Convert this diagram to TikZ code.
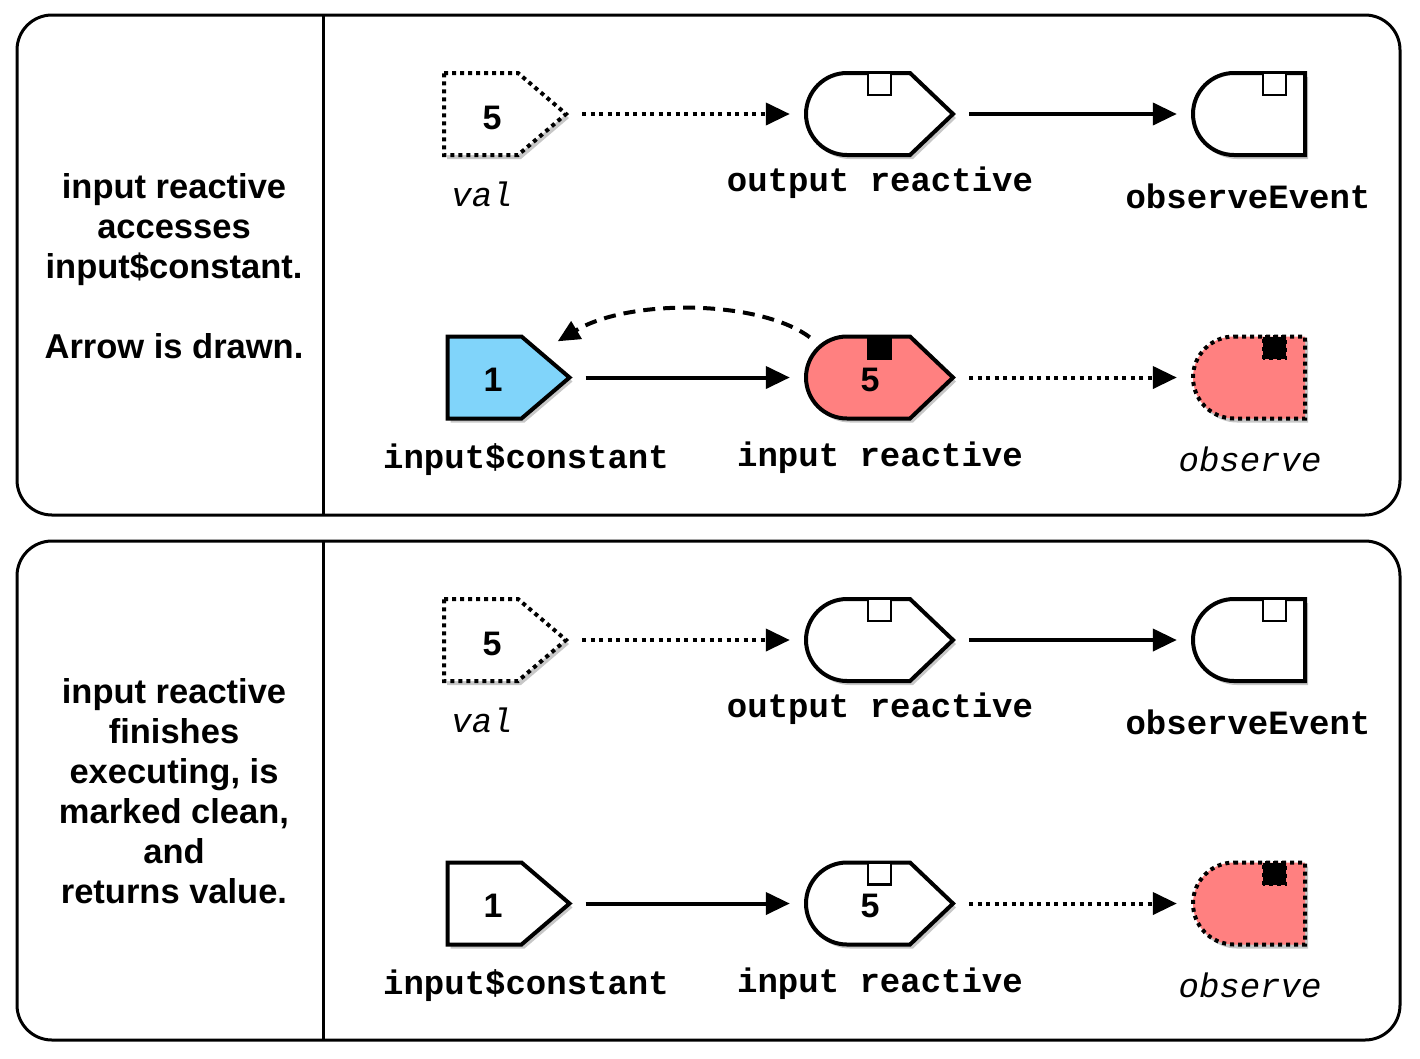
\documentclass[tikz,border=0pt]{standalone}
\usepackage{fontspec}
\setmainfont{Liberation Sans}
\newfontfamily\lmono{Liberation Mono}
\usetikzlibrary{arrows.meta}
\definecolor{cblue}{HTML}{80D4FA}
\definecolor{cred}{HTML}{FF8080}
\def\pentP{(-61,41) -- (13,41) -- (61,0) -- (13,-41) -- (-61,-41) -- cycle}
\def\reactP{(-32.5,41) -- (30.5,41) -- (73.5,0) -- (30.5,-41) -- (-32.5,-41) arc[start angle=270,end angle=90,radius=41] -- cycle}
\def\obsP{(-15,41) -- (56,41) -- (56,-41) -- (-15,-41) arc[start angle=270,end angle=90,radius=41] -- cycle}
\newcommand\drawshape[3]{%
  \fill[black,opacity=.22,shift={(#2)},xshift=3pt,yshift=-4pt] #1;
  \path[shift={(#2)},shp,#3] #1;}
\newcommand\reactsq[2]{\path[shift={(#1)},line width=2.8pt,draw,#2] (-11.5,19) rectangle (11.5,41);}
\newcommand\obssq[2]{\path[shift={(#1)},line width=2.8pt,draw,#2] (14,19) rectangle (37,41);}
\tikzset{
  shp/.style={line width=4pt, line join=miter, draw},
  dotb/.style={dash pattern=on 4pt off 4pt},
  pentbox/.style={inner sep=0pt, minimum width=122pt, minimum height=82pt},
  reactbox/.style={inner sep=0pt, minimum width=147pt, minimum height=82pt},
  obsbox/.style={inner sep=0pt, minimum width=112pt, minimum height=82pt},
  num/.style={font=\bfseries\fontsize{34}{38}\selectfont, inner sep=0pt},
  lab/.style={font=\lmono\bfseries\fontsize{34}{38}\selectfont, inner sep=0pt},
  ilab/.style={font=\lmono\itshape\fontsize{34}{38}\selectfont, inner sep=0pt},
  side/.style={font=\bfseries\fontsize{34.5}{40}\selectfont, align=center, inner sep=0pt},
  conn/.style={line width=4pt, -{Triangle[length=24pt,width=22pt]}, shorten <=16pt, shorten >=16pt},
  dotc/.style={conn, dash pattern=on 4pt off 4.5pt},
  panel/.style={line width=3pt, rounded corners=35pt},
}
\begin{document}
\begin{tikzpicture}[x=1pt,y=1pt]
\useasboundingbox (0,0) rectangle (1420,-1058);
% panels
\draw[panel] (17,-15) rectangle (1400,-515);
\draw[line width=3pt] (323,-15) -- (323,-515);
\draw[panel] (17,-541) rectangle (1400,-1040);
\draw[line width=3pt] (323,-541) -- (323,-1040);

\node[side] (t1) at (174,-266.5) {input reactive\\accesses\\input\$constant.\\[40pt]Arrow is drawn.};
\node[side] (t2) at (174,-791.5) {input reactive\\finishes\\executing, is\\marked clean,\\and\\returns value.};

% ===== panel 1, top row =====
\drawshape{\pentP}{505,-114}{fill=white,dotb}
\drawshape{\reactP}{879.5,-114}{fill=white}
\reactsq{879.5,-114}{fill=white}
\drawshape{\obsP}{1249,-114}{fill=white}
\obssq{1249,-114}{fill=white}
\node[pentbox] (va1) at (505,-114) {};
\node[reactbox] (or1) at (879.5,-114) {};
\node[obsbox] (oe1) at (1249,-114) {};
\node[num] (n1) at (492,-118) {5};
\node[ilab] (lva1) at (482,-194) {val};
\node[lab] (lor1) at (880,-183) {output reactive};
\node[lab] (loe1) at (1248,-196) {observeEvent};
\draw[dotc] (va1.east) -- (or1.west);
\draw[conn] (or1.east) -- (oe1.west);

% ===== panel 1, bottom row =====
\drawshape{\pentP}{508.5,-377.5}{fill=cblue}
\drawshape{\reactP}{879.5,-377.5}{fill=cred}
\reactsq{879.5,-377.5}{fill=black}
\drawshape{\obsP}{1249,-377.5}{fill=cred,dotb}
\obssq{1249,-377.5}{fill=black,dotb}
\node[pentbox] (ic1) at (508.5,-377.5) {};
\node[reactbox] (ir1) at (879.5,-377.5) {};
\node[obsbox] (ob1) at (1249,-377.5) {};
\node[num] (n2) at (493,-380) {1};
\node[num] (n3) at (870,-380) {5};
\node[lab] (lic1) at (526,-460) {input\$constant};
\node[lab] (lir1) at (880,-458) {input reactive};
\node[ilab] (lob1) at (1250,-459) {observe};
\draw[conn] (ic1.east) -- (ir1.west);
\draw[dotc] (ir1.east) -- (ob1.west);
\draw[line width=4pt, dash pattern=on 12pt off 8pt, -{Triangle[length=22pt,width=20pt]}]
  ([xshift=4pt,yshift=-1pt]ir1.north west) .. controls (760,-300) and (630,-298) .. ([xshift=-12pt,yshift=-5pt]ic1.north east);

% ===== panel 2, top row =====
\drawshape{\pentP}{505,-640}{fill=white,dotb}
\drawshape{\reactP}{879.5,-640}{fill=white}
\reactsq{879.5,-640}{fill=white}
\drawshape{\obsP}{1249,-640}{fill=white}
\obssq{1249,-640}{fill=white}
\node[pentbox] (va2) at (505,-640) {};
\node[reactbox] (or2) at (879.5,-640) {};
\node[obsbox] (oe2) at (1249,-640) {};
\node[num] (n4) at (492,-644) {5};
\node[ilab] (lva2) at (482,-720) {val};
\node[lab] (lor2) at (880,-709) {output reactive};
\node[lab] (loe2) at (1248,-722) {observeEvent};
\draw[dotc] (va2.east) -- (or2.west);
\draw[conn] (or2.east) -- (oe2.west);

% ===== panel 2, bottom row =====
\drawshape{\pentP}{508.5,-903.5}{fill=white}
\drawshape{\reactP}{879.5,-903.5}{fill=white}
\reactsq{879.5,-903.5}{fill=white}
\drawshape{\obsP}{1249,-903.5}{fill=cred,dotb}
\obssq{1249,-903.5}{fill=black,dotb}
\node[pentbox] (ic2) at (508.5,-903.5) {};
\node[reactbox] (ir2) at (879.5,-903.5) {};
\node[obsbox] (ob2) at (1249,-903.5) {};
\node[num] (n5) at (493,-906) {1};
\node[num] (n6) at (870,-906) {5};
\node[lab] (lic2) at (526,-986) {input\$constant};
\node[lab] (lir2) at (880,-984) {input reactive};
\node[ilab] (lob2) at (1250,-985) {observe};
\draw[conn] (ic2.east) -- (ir2.west);
\draw[dotc] (ir2.east) -- (ob2.west);
\end{tikzpicture}
\end{document}
